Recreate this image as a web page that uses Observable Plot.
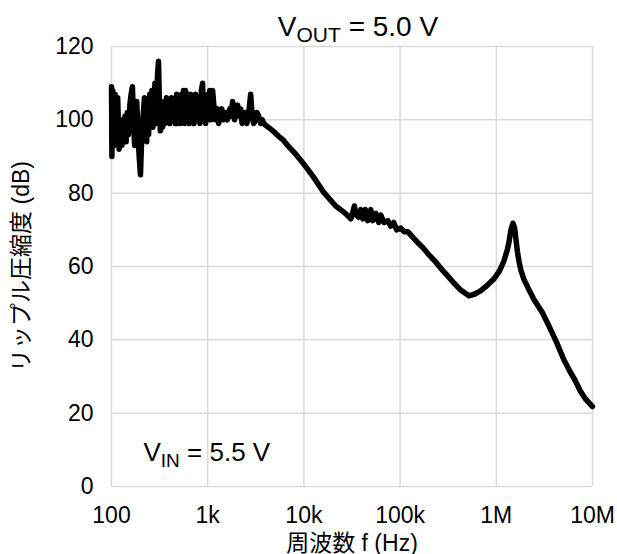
<!DOCTYPE html>
<html>
<head>
<meta charset="utf-8">
<script src="https://cdn.jsdelivr.net/npm/d3@7"></script>
<script src="https://cdn.jsdelivr.net/npm/@observablehq/plot@0.6"></script>
<style>
  html, body { margin: 0; padding: 0; background: #fff; }
</style>
</head>
<body>
<div id="chart"></div>
<script>
// Frequency (Hz) and ripple rejection (dB)
const freq = [
  100, 101, 103, 106, 109, 112, 116, 120, 124, 128, 133, 138, 142, 146, 150, 155, 160, 165, 170, 174,
  178, 183, 188, 194, 200, 206, 213, 220, 226, 232, 237, 243, 250, 257, 263, 270, 277, 283, 290, 296,
  302, 308, 315, 322, 330, 340, 350, 360, 372, 382, 395, 405, 420, 431, 445, 460, 475, 486, 500, 520,
  535, 548, 560, 575, 589, 605, 620, 640, 664, 680, 700, 720, 748, 770, 800, 830, 860, 885, 905, 930,
  951, 980, 1010, 1050, 1080, 1125, 1150, 1200, 1250, 1299, 1350, 1400, 1450, 1536, 1600, 1700, 1750, 1816, 1900, 1970,
  2047, 2120, 2200, 2280, 2364, 2450, 2550, 2650, 2795, 2900, 3003, 3150, 3250, 3385, 3550, 3700, 3816, 4000, 4512, 5000,
  5467, 6100, 6784, 8000, 9262, 10500, 12647, 16075, 21430, 27000, 30690, 32000, 33500, 35000, 37000, 39000, 41000, 43500, 46000, 49570,
  52000, 56000, 60000, 63000, 68000, 74470, 80000, 86000, 92000, 101700, 110000, 120300, 135000, 152900, 175000, 194200, 230000, 265100, 310000, 362200,
  430000, 518600, 600000, 691500, 800000, 944000, 1080000, 1200000, 1300000, 1352000, 1420000, 1488000, 1550000, 1600000, 1660000, 1719000, 1800000, 1938000, 2200000, 2462000,
  3000000, 3444000, 4200000, 5052000, 5800000, 6420000, 7500000, 8500000, 10000000
];
const psrr = [
  109, 90, 108, 93, 107, 94, 106, 92, 100, 93, 97, 101, 94, 102, 96, 104, 107, 109, 99, 93,
  97, 105, 97, 90, 85, 95, 101, 106, 97, 94, 105, 96, 107, 99, 108, 98, 104, 110, 99, 108,
  113, 116, 104, 97, 105, 98, 104, 99, 106, 100, 105, 99, 106, 100, 105, 99, 107, 99, 106, 99,
  107, 100, 108, 99, 108, 100, 106, 99, 107, 100, 105, 99, 107, 100, 106, 99, 108, 110, 100, 107,
  99, 106, 100, 108, 100, 108, 105, 100, 103, 99, 101, 103, 100, 102, 100, 103, 101, 105, 100, 103,
  104, 101, 103, 99, 100, 102, 99, 101, 107, 101, 99, 100, 102, 101, 99, 100, 99, 98.5, 97.5, 96.5,
  95.5, 94.5, 93, 91, 89, 87.2, 84.3, 80.2, 76.5, 74.5, 73, 74.5, 76.5, 74, 73.5, 75.5, 73, 75.5, 72.5, 75.5,
  72.5, 74.5, 72, 74, 72, 72.5, 71, 72, 70, 70.5, 69.5, 69.5, 68, 66.5, 65, 63.5, 61.5, 59.5, 57.5, 55.5,
  53.5, 52, 52.5, 53.4, 54.8, 56.6, 58.8, 61.5, 64.5, 66.5, 70, 71.8, 70.5, 67.5, 64, 61.5, 59, 56.5, 53.5, 51,
  47.5, 44.3, 39.5, 34.5, 31.5, 29.5, 26, 23.8, 21.8
];

const xTicks = [100, 1e3, 1e4, 1e5, 1e6, 1e7];
const xTickLabels = ["100", "1k", "10k", "100k", "1M", "10M"];
const yTicks = [0, 20, 40, 60, 80, 100, 120];
const xLabel = "周波数 f (Hz)";
const yLabel = "リップル圧縮度 (dB)";
const titleText = "V_OUT = 5.0 V";
const noteText = "V_IN = 5.5 V";

const data = freq.map((f, i) => ({f, db: psrr[i]}));
const gridColor = "#d9d9d9";

const chart = Plot.plot({
  width: 617,
  height: 554,
  marginLeft: 111,
  marginRight: 25,
  marginTop: 46,
  marginBottom: 68,
  style: {
    fontFamily: "'Liberation Sans', Arial, 'Noto Sans CJK JP', sans-serif",
    fontSize: "23px",
    background: "#fff",
    color: "#000"
  },
  x: {type: "log", domain: [100, 1e7]},
  y: {domain: [0, 120]},
  marks: [
    Plot.gridX(xTicks, {stroke: gridColor, strokeOpacity: 1, strokeWidth: 1.5}),
    Plot.gridY(yTicks, {stroke: gridColor, strokeOpacity: 1, strokeWidth: 1.5}),
    Plot.axisX(xTicks, {
      tickSize: 0, tickPadding: 20, fontSize: 23,
      tickFormat: (d) => xTickLabels[xTicks.indexOf(d)],
      label: xLabel, labelAnchor: "center", labelArrow: "none", labelOffset: 64
    }),
    Plot.axisY(yTicks, {
      tickSize: 0, tickPadding: 18, fontSize: 23,
      label: yLabel, labelAnchor: "center", labelArrow: "none", labelOffset: 99
    }),
    Plot.line(data, {x: "f", y: "db", stroke: "#000", strokeWidth: 5.5, strokeLinejoin: "round", strokeLinecap: "round"}),
    Plot.text([titleText], {frameAnchor: "top", dx: 6, dy: -11, lineAnchor: "bottom", fontSize: 28, fill: "#000"}),
    Plot.text([noteText], {frameAnchor: "bottom-left", dx: 32, dy: -26, lineAnchor: "bottom", textAnchor: "start", fontSize: 26, fill: "#000"})
  ]
});

// Render subscripts as tspans
function subscriptify(svg, full, base, sub, rest, subSize, shift) {
  d3.select(svg).selectAll("text").each(function () {
    if (this.textContent === full && this.childElementCount === 0) {
      const t = d3.select(this);
      t.text(null);
      t.append("tspan").text(base);
      t.append("tspan").attr("font-size", subSize).attr("dy", shift).text(sub);
      t.append("tspan").attr("dy", -shift).text(rest);
    }
  });
}
subscriptify(chart, titleText, "V", "OUT", " = 5.0 V", 21, 6);
subscriptify(chart, noteText, "V", "IN", " = 5.5 V", 19, 6);

document.getElementById("chart").appendChild(chart);
</script>
</body>
</html>
